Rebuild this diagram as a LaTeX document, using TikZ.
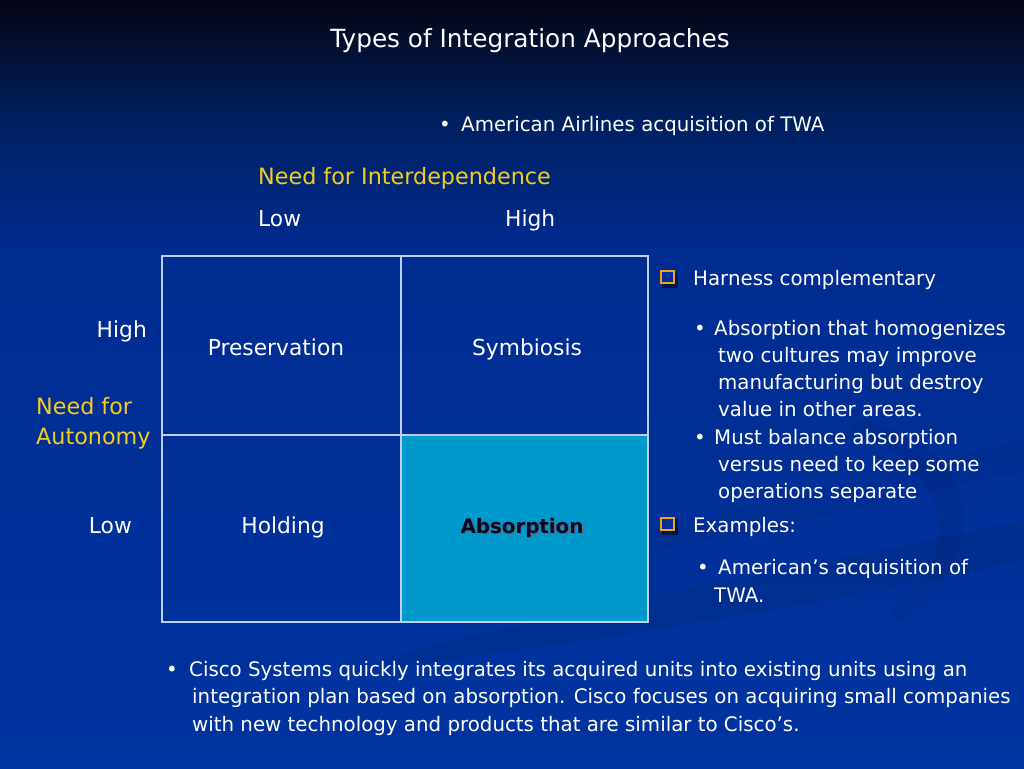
\documentclass[tikz,border=0pt]{standalone}
\usepackage{fontspec}
\setmainfont{DejaVu Sans}[FakeStretch=0.99]
\definecolor{bgtop}{RGB}{2,4,20}
\definecolor{bgA}{RGB}{4,14,45}
\definecolor{bgB}{RGB}{0,32,96}
\definecolor{bgC}{RGB}{0,44,145}
\definecolor{bgbot}{RGB}{0,52,160}
\definecolor{gridline}{RGB}{190,205,240}
\definecolor{absfill}{RGB}{0,153,204}
\definecolor{cellfill}{RGB}{0,48,150}
\definecolor{yel}{RGB}{245,205,30}
\definecolor{orng}{RGB}{245,160,30}
\definecolor{darktxt}{RGB}{2,8,40}
% positions: 75bp = picture top, 25bp = picture bottom
\pgfdeclareverticalshading{bgshade}{100bp}{color(0bp)=(bgbot); color(25bp)=(bgbot); color(58.7bp)=(bgC); color(67.2bp)=(bgB); color(72.4bp)=(bgA); color(75bp)=(bgtop); color(100bp)=(bgtop)}
\begin{document}
\begin{tikzpicture}[x=1pt,y=-1pt,
  txt/.style={anchor=base west,inner sep=0pt,text=white,font=\fontsize{20}{24}\selectfont},
  ylw/.style={txt,text=yel,font=\fontsize{22.5}{26}\selectfont},
  cell/.style={anchor=base,inner sep=0pt,text=white,font=\fontsize{22}{26}\selectfont},
  sqbul/.style={draw=orng,line width=2.2pt,minimum size=12.5pt,inner sep=0pt,fill=cellfill},
  bul/.style={anchor=base,inner sep=0pt,text=white,font=\fontsize{20}{24}\selectfont}]
\useasboundingbox (0,0) rectangle (1024,768);
\shade[shading=bgshade] (0,0) rectangle (1024,768);
% subtle swooshes
\fill[black,opacity=0.06] (380,660) .. controls (600,600) and (850,560) .. (1024,520) -- (1024,560) .. controls (850,600) and (600,640) .. (380,670) -- cycle;
\fill[black,opacity=0.05] (860,420) .. controls (990,450) and (990,560) .. (900,620) -- (890,615) .. controls (960,560) and (960,470) .. (850,430) -- cycle;
\fill[black,opacity=0.04] (500,560) .. controls (700,520) and (900,470) .. (1024,440) -- (1024,470) .. controls (900,500) and (700,545) .. (520,575) -- cycle;

% title
\node[anchor=base,inner sep=0pt,text=white,font=\fontsize{25}{30}\selectfont] (title) at (530,48) {Types of Integration Approaches};

% top example
\node[bul] (b0) at (445,131) {•};
\node[txt] (aa) at (461,131) {American Airlines acquisition of TWA};

% axis labels
\node[ylw] (nfi) at (258,184) {Need for Interdependence};
\node[txt,font=\fontsize{22}{26}\selectfont] (lowx) at (258,226) {Low};
\node[txt,font=\fontsize{22}{26}\selectfont] (highx) at (505,226) {High};

% grid
\fill[absfill] (401,435) rectangle (648,622);
\draw[gridline,line width=1.2pt] (162,256) rectangle (648,622);
\draw[gridline,line width=1.2pt] (401,256) -- (401,622);
\draw[gridline,line width=1.2pt] (162,435) -- (648,435);

\node[cell] (pres) at (276,355) {Preservation};
\node[cell] (symb) at (527,355) {Symbiosis};
\node[cell] (hold) at (283,533) {Holding};
\node[cell,text=black!60,font=\bfseries\fontsize{20}{26}\selectfont] at (523.4,534.4) {Absorption};
\node[cell,text=darktxt,font=\bfseries\fontsize{20}{26}\selectfont] (abs) at (522,533) {Absorption};

% left axis
\node[txt,anchor=base east,font=\fontsize{22}{26}\selectfont] (highy) at (147,337) {High};
\node[ylw] (nfa1) at (36,414) {Need for};
\node[ylw] (nfa2) at (36,444) {Autonomy};
\node[txt,anchor=base east,font=\fontsize{22}{26}\selectfont] (lowy) at (132,533) {Low};

% right text
\fill[black,opacity=0.5] (662,272) rectangle (678,288);
\node[sqbul] (s1) at (667.5,277) {};
\node[txt] (harn) at (693,285) {Harness complementary};
\node[bul] (b1) at (700,335) {•};
\node[txt] (l1) at (714,335) {Absorption that homogenizes};
\node[txt] (l2) at (718,362) {two cultures may improve};
\node[txt] (l3) at (718,389) {manufacturing but destroy};
\node[txt] (l4) at (718,416) {value in other areas.};
\node[bul] (b2) at (700,444) {•};
\node[txt] (l5) at (714,444) {Must balance absorption};
\node[txt] (l6) at (718,471) {versus need to keep some};
\node[txt] (l7) at (718,498) {operations separate};
\fill[black,opacity=0.5] (662,519) rectangle (678,535);
\node[sqbul] (s2) at (667.5,524) {};
\node[txt] (ex) at (693,532) {Examples:};
\node[bul] (b3) at (703,574) {•};
\node[txt] (l8) at (718,574) {American’s acquisition of};
\node[txt] (l9) at (714,602) {TWA.};

% bottom
\node[bul] (b4) at (172,676) {•};
\node[txt] (c1) at (189,676) {Cisco Systems quickly integrates its acquired units into existing units using an};
\node[txt] (c2) at (192,703) {integration plan based on absorption. Cisco focuses on acquiring small companies};
\node[txt] (c3) at (192,731) {with new technology and products that are similar to Cisco’s.};
\end{tikzpicture}
\end{document}
